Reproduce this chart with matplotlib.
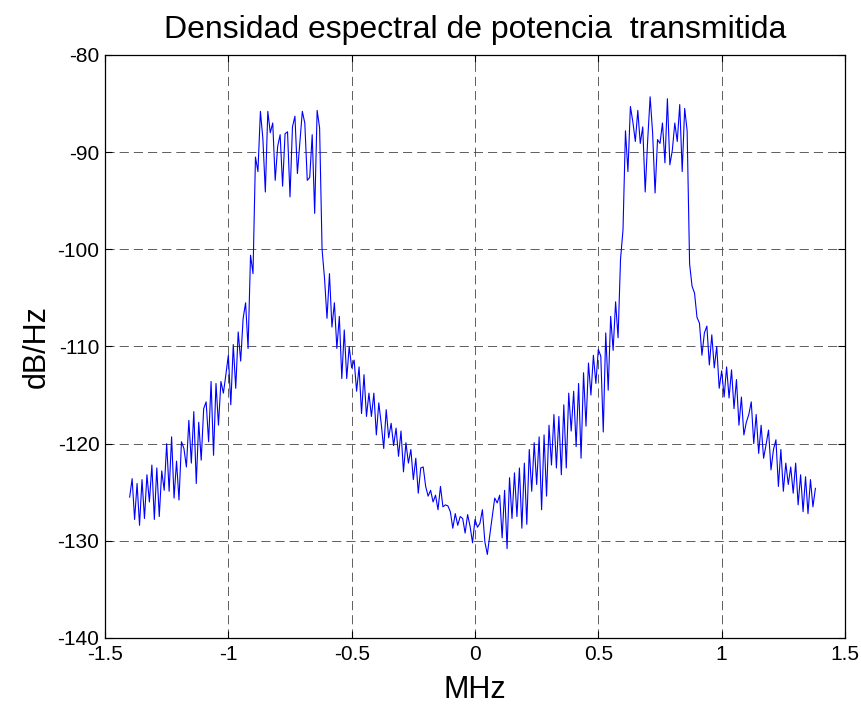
import numpy as np
import matplotlib
matplotlib.use("Agg")
import matplotlib.pyplot as plt

# PSD values, one per 0.01 MHz starting at -1.40 MHz
# (each row = 0.1 MHz)
psd_db = [
    -125.5, -123.6, -127.8, -124.1, -128.4, -123.7, -127.7, -123.2, -126.0, -122.2,
    -127.8, -122.5, -127.5, -122.8, -124.8, -120.0, -124.9, -119.3, -125.6, -121.8,
    -125.8, -119.8, -120.5, -122.4, -117.6, -122.0, -116.7, -124.1, -117.8, -121.7,
    -116.4, -115.7, -119.8, -113.6, -121.2, -113.8, -118.1, -113.6, -114.8, -112.9,
    -110.9, -116.0, -109.8, -114.3, -108.5, -111.5, -107.1, -105.5, -110.2, -100.6,
    -102.5, -90.5, -92.0, -85.8, -88.6, -94.1, -85.8, -88.0, -87.0, -92.9,
    -89.4, -88.2, -93.5, -88.1, -87.9, -94.6, -87.4, -86.3, -92.2, -89.0,
    -85.8, -87.0, -92.9, -92.6, -88.2, -96.3, -85.7, -87.5, -100.0, -103.0,
    -107.1, -102.5, -108.0, -105.5, -110.2, -106.9, -113.3, -108.3, -113.3, -110.0,
    -112.2, -111.4, -114.6, -112.1, -116.9, -112.9, -117.2, -114.8, -117.2, -114.8,
    -119.1, -115.8, -118.0, -120.5, -116.5, -119.4, -117.9, -120.2, -118.4, -121.3,
    -118.7, -122.9, -119.9, -122.0, -120.6, -123.7, -121.5, -125.1, -122.5, -122.4,
    -124.4, -125.4, -124.8, -126.0, -125.3, -126.8, -124.4, -126.5, -126.3, -126.4,
    -127.0, -128.7, -127.2, -128.4, -127.5, -127.7, -129.2, -127.3, -128.5, -130.2,
    -127.8, -128.6, -128.2, -126.8, -130.1, -131.4, -129.4, -127.5, -125.6, -126.1,
    -125.3, -129.7, -124.8, -130.8, -123.5, -127.7, -123.0, -127.5, -122.5, -128.7,
    -122.0, -128.3, -120.6, -124.9, -119.9, -124.2, -119.3, -126.8, -119.1, -125.4,
    -118.1, -122.2, -117.0, -122.5, -117.2, -123.2, -116.0, -122.5, -114.8, -118.7,
    -114.6, -120.3, -113.8, -121.5, -112.7, -118.2, -111.7, -115.0, -110.9, -113.8,
    -110.3, -111.0, -118.8, -108.6, -114.5, -106.9, -110.4, -105.4, -109.1, -101.0,
    -98.0, -87.8, -92.0, -85.3, -86.9, -88.9, -85.7, -89.1, -87.4, -94.1,
    -88.8, -84.3, -88.0, -94.2, -88.7, -89.1, -87.0, -91.1, -84.5, -91.3,
    -89.8, -87.0, -88.9, -85.1, -92.0, -85.5, -87.8, -101.5, -103.8, -104.5,
    -107.0, -107.6, -110.9, -108.6, -107.9, -111.9, -108.8, -112.2, -110.0, -114.3,
    -112.5, -115.2, -112.1, -115.3, -112.4, -116.4, -113.4, -118.1, -115.2, -119.1,
    -117.8, -117.0, -115.7, -120.0, -117.0, -121.0, -118.1, -121.5, -120.1, -118.6,
    -122.7, -120.6, -119.6, -124.4, -120.6, -124.9, -122.0, -124.2, -122.4, -125.1,
    -122.0, -126.3, -123.2, -127.0, -123.4, -127.2, -123.7, -126.5, -124.6,
]
f_start = -1.40
f_step = 0.01
freq_mhz = f_start + f_step * np.arange(len(psd_db))

xticks = [-1.5, -1, -0.5, 0, 0.5, 1, 1.5]
xticklabels = ["-1.5", "-1", "-0.5", "0", "0.5", "1", "1.5"]
yticks = [-140, -130, -120, -110, -100, -90, -80]

plt.rcParams['font.family'] = ['Liberation Sans', 'DejaVu Sans']
plt.rcParams['axes.unicode_minus'] = False

fig = plt.figure(figsize=(8.61, 7.06), dpi=100)
ax = fig.add_axes([105/861, 1 - 638/706, 740/861, 583/706])

ax.plot(freq_mhz, psd_db, color=(0, 0, 1), linewidth=0.8)

ax.set_xlim(-1.5, 1.5)
ax.set_ylim(-140, -80)
ax.set_xticks(xticks)
ax.set_xticklabels(xticklabels)
ax.set_yticks(yticks)
ax.tick_params(direction='in', top=True, right=True, length=5, width=0.8,
               labelsize=15)
ax.tick_params(axis='x', pad=5)
ax.tick_params(axis='y', pad=4)
ax.grid(True, color='#444444', linestyle=(0, (11, 6)), linewidth=0.6)
for s in ax.spines.values():
    s.set_linewidth(0.9)

ax.set_title("Densidad espectral de potencia  transmitida", fontsize=23, pad=12)
ax.set_xlabel("MHz", fontsize=22, labelpad=8)
ax.set_ylabel("dB/Hz", fontsize=22, labelpad=4)

fig.savefig("out.png", dpi=100)
